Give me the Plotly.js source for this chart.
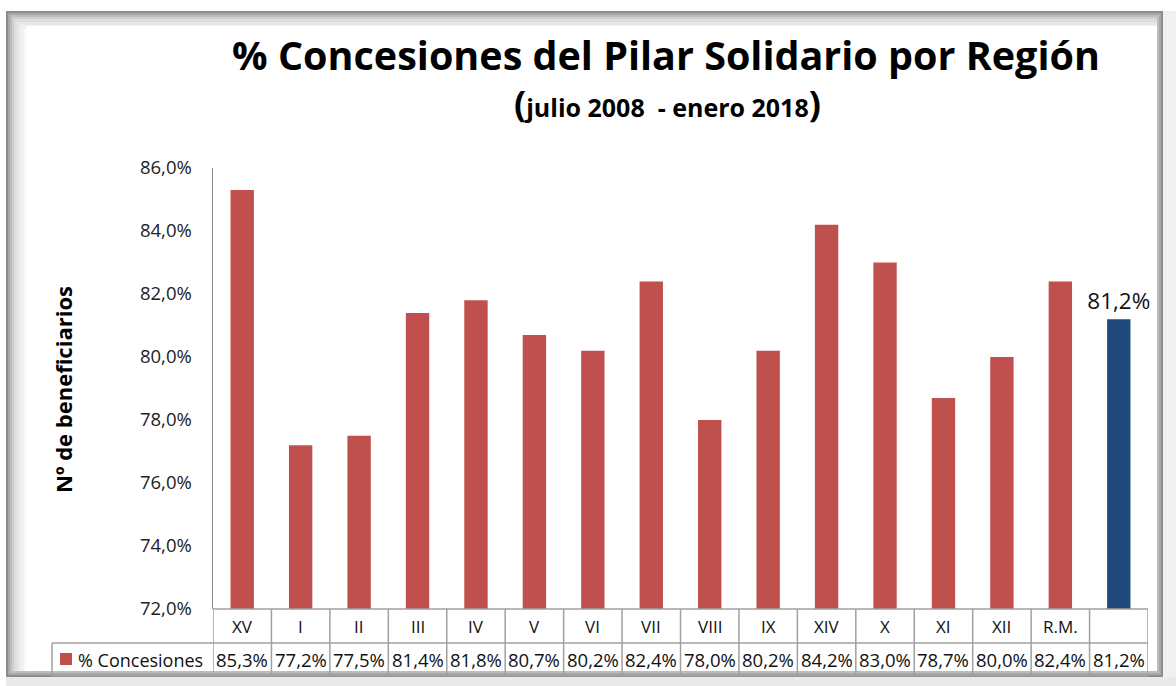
<!DOCTYPE html>
<html>
<head>
<meta charset="utf-8">
<script src="https://cdn.plot.ly/plotly-3.0.1.min.js"></script>
<style>html,body{margin:0;padding:0;background:#fff;}#chart{width:1176px;height:686px;}</style>
</head>
<body>
<div id="chart"></div>
<script>
// ---- data ----
var regions = ['XV','I','II','III','IV','V','VI','VII','VIII','IX','XIV','X','XI','XII','R.M.',''];
var concesiones = [85.3,77.2,77.5,81.4,81.8,80.7,80.2,82.4,78.0,80.2,84.2,83.0,78.7,80.0,82.4,81.2];
var seriesName = '% Concesiones';
var yTicks = [72,74,76,78,80,82,84,86];

// ---- layout helpers ----
var W = 1176, H = 686;
var M = {l: 213, r: 28, t: 168, b: 77};
var PW = W - M.l - M.r, PH = H - M.t - M.b;
function px(x){ return (x - M.l) / PW; }
function py(y){ return (H - M.b - y) / PH; }
function fmt(v){ return v.toFixed(1).replace('.', ',') + '%'; }

var FONT = '"Open Sans", "Liberation Sans", sans-serif';
var RED = '#C0504D', BLUE = '#1F497D', GRID = '#a0a0a0';
var n = regions.length;
var xs = regions.map(function(_, i){ return i; });
var colors = regions.map(function(_, i){ return i === n - 1 ? BLUE : RED; });
var labels = concesiones.map(function(v, i){ return i === n - 1 ? fmt(v) : ''; });

var trace = {
  type: 'bar', x: xs, y: concesiones, width: 0.4,
  marker: {color: colors},
  text: labels, textposition: 'outside', cliponaxis: false, constraintext: 'none',
  textfont: {family: FONT, size: 22.5, color: '#111'},
  hoverinfo: 'skip', name: seriesName
};

var shapes = [];
var annotations = [];

// frame with shadow
var shadeSteps = [['#8c8c8c',0],['#a8a8a8',2],['#bdbdbd',4],['#cfcfcf',6],['#dddddd',8],['#e8e8e8',11],['#f1f1f1',14],['#f8f8f8',18]];
shadeSteps.forEach(function(s){
  shapes.push({type:'rect', xref:'paper', yref:'paper', layer:'below',
    x0: px(6 + s[1]), x1: px(1163 - Math.min(s[1],6)), y0: py(11 + s[1]), y1: py(677 - Math.min(s[1],6)),
    line:{width:0}, fillcolor: s[0]});
});
shapes.push({type:'rect', xref:'paper', yref:'paper', layer:'below',
  x0: px(26), x1: px(1157), y0: py(26), y1: py(671), line:{width:0}, fillcolor:'#ffffff'});
// right/bottom soft shadow
shapes.push({type:'rect', xref:'paper', yref:'paper', layer:'below',
  x0: px(1163), x1: px(1176), y0: py(11), y1: py(686), line:{width:0}, fillcolor:'#f0f0f0'});
shapes.push({type:'rect', xref:'paper', yref:'paper', layer:'below',
  x0: px(6), x1: px(1176), y0: py(677), y1: py(686), line:{width:0}, fillcolor:'#e9e9e9'});

// data table lines
var lineStyle = {color: GRID, width: 1.5};
shapes.push({type:'line', xref:'x', yref:'paper', x0:-0.5, x1:n-0.5, y0:0, y1:0, line:lineStyle});
shapes.push({type:'line', xref:'paper', yref:'paper', x0:px(52), x1:1, y0:py(643), y1:py(643), line:lineStyle});
shapes.push({type:'line', xref:'paper', yref:'paper', x0:px(52), x1:1, y0:py(676), y1:py(676), line:lineStyle});
shapes.push({type:'line', xref:'paper', yref:'paper', x0:px(52), x1:px(52), y0:py(643), y1:py(676), line:lineStyle});
for (var i = 0; i <= n; i++) {
  shapes.push({type:'line', xref:'x', yref:'paper', x0:i-0.5, x1:i-0.5, y0:0, y1:py(676), line:lineStyle});
}
// legend key
shapes.push({type:'rect', xref:'paper', yref:'paper', x0:px(60), x1:px(72), y0:py(653), y1:py(665),
  line:{width:0}, fillcolor: RED});
annotations.push({xref:'paper', yref:'paper', x:px(76), y:py(659.5), xanchor:'left', yanchor:'middle',
  text: seriesName, showarrow:false, font:{family:FONT, size:18, color:'#111'}});

regions.forEach(function(r, i){
  annotations.push({xref:'x', yref:'paper', x:i, y:py(626), xanchor:'center', yanchor:'middle',
    text: r, showarrow:false, font:{family:FONT, size:17, color:'#111'}});
  annotations.push({xref:'x', yref:'paper', x:i, y:py(659.5), xanchor:'center', yanchor:'middle',
    text: fmt(concesiones[i]), showarrow:false, font:{family:FONT, size:18.5, color:'#111'}});
});

// subtitle
annotations.push({xref:'paper', yref:'paper', x:px(667), y:py(104), xanchor:'center', yanchor:'middle',
  text:'<span style="font-size:36px">(</span>julio 2008  - enero 2018<span style="font-size:36px">)</span>',
  showarrow:false, font:{family:FONT, size:25, color:'#000', weight:'bold'}});
// y title
annotations.push({xref:'paper', yref:'paper', x:px(63), y:py(390), xanchor:'center', yanchor:'middle',
  text:'Nº de beneficiarios', textangle:-90, showarrow:false,
  font:{family:FONT, size:22, color:'#000', weight:'bold'}});

var layout = {
  width: W, height: H,
  margin: M,
  paper_bgcolor: '#ffffff', plot_bgcolor: 'rgba(0,0,0,0)',
  separators: ',.',
  showlegend: false,
  title: {text: '% Concesiones del Pilar Solidario por Región', x: 666/W, xanchor:'center',
    y: 1 - 56/H, yanchor:'middle', yref:'container',
    font: {family: FONT, size: 39.5, color: '#000', weight: 'bold'}},
  xaxis: {range: [-0.5, n - 0.5], showticklabels: false, showgrid: false, zeroline: false,
    showline: false, ticks: '', fixedrange: true},
  yaxis: {range: [72, 86], tickvals: yTicks, ticktext: yTicks.map(function(v){ return fmt(v); }),
    showgrid: false, zeroline: false, showline: true, linecolor: '#8c8c8c', linewidth: 1.5,
    ticks: '', ticklabelstandoff: 16,
    tickfont: {family: FONT, size: 18.5, color: '#222'}, fixedrange: true},
  shapes: shapes,
  annotations: annotations
};

Plotly.newPlot('chart', [trace], layout, {displayModeBar: false, staticPlot: true});
</script>
</body>
</html>
